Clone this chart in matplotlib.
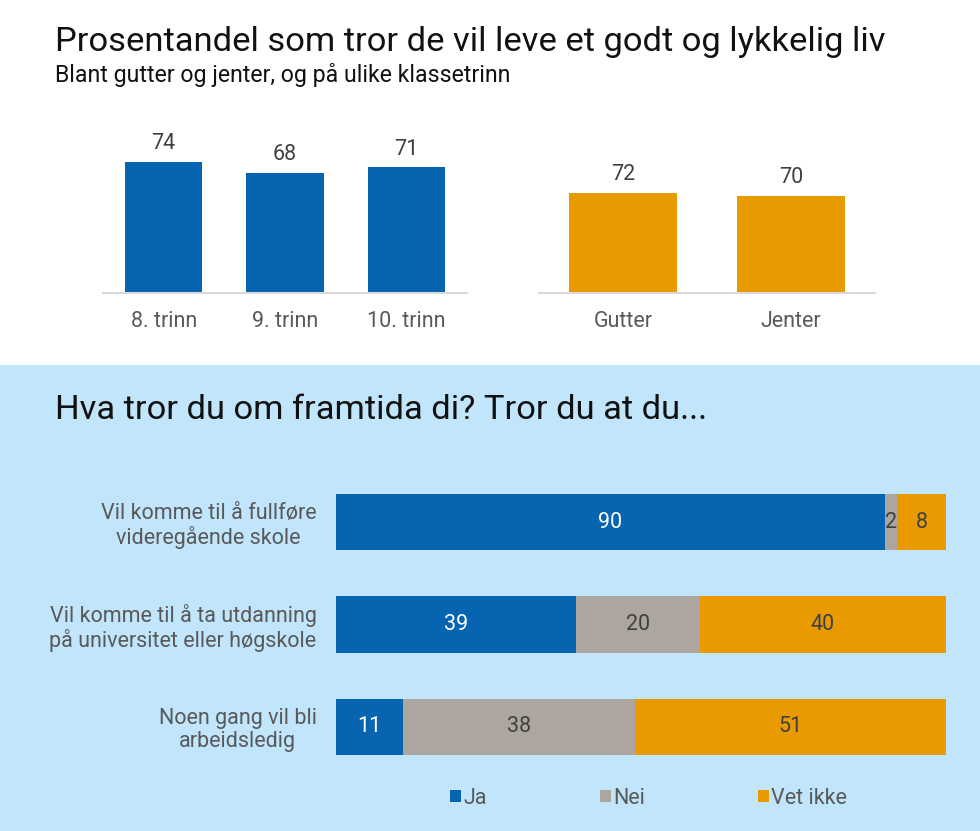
import numpy as np
import matplotlib.pyplot as plt
from matplotlib.patches import Rectangle

plt.rcParams['font.family'] = ['Roboto', 'DejaVu Sans']

# top: share who think they'll live a good and happy life
grade_labels = ["8. trinn", "9. trinn", "10. trinn"]
grade_values = [74, 68, 71]
gender_labels = ["Gutter", "Jenter"]
gender_values = [72, 70]

# bottom: thoughts about the future
questions = ["Vil komme til å fullføre\nvideregående skole",
             "Vil komme til å ta utdanning\npå universitet eller høgskole",
             "Noen gang vil bli\narbeidsledig"]
ja = [90, 39, 11]
nei = [2, 20, 38]
vet_ikke = [8, 40, 51]
series_names = ["Ja", "Nei", "Vet ikke"]

BLUE = "#0664b0"
ORANGE = "#e89a00"
GREY = "#aca69f"
BG = "#c1e5fb"
TXT = "#595959"
FS = 15.5

W, H = 980, 831
fig = plt.figure(figsize=(W / 100, H / 100), dpi=100)


def box(x0, y0, x1, y1):
    # pixel box (top-left origin) -> figure rect
    return [x0 / W, 1 - y1 / H, (x1 - x0) / W, (y1 - y0) / H]


fig.patches.append(Rectangle((0, 0), 1, 1 - 365 / H, transform=fig.transFigure,
                             facecolor=BG, edgecolor='none', zorder=-10))

fig.text(55 / W, 1 - 42 / H, "Prosentandel som tror de vil leve et godt og lykkelig liv",
         fontsize=24.8, color="#111111", va='center', ha='left')
fig.text(55 / W, 1 - 75 / H, "Blant gutter og jenter, og på ulike klassetrinn",
         fontsize=16.7, color="#111111", va='center', ha='left')


def column_chart(rect, labels, values, color, ymax):
    ax = fig.add_axes(rect)
    x = np.arange(len(values))
    bars = ax.bar(x, values, width=0.64, color=color)
    for b, v in zip(bars, values):
        ax.annotate(str(v), (b.get_x() + b.get_width() / 2, v), xytext=(0, 13),
                    textcoords='offset points', ha='center', va='center',
                    fontsize=FS, color="#404040")
    ax.set_xlim(-0.5, len(values) - 0.5)
    ax.set_ylim(0, ymax)
    ax.set_xticks(x)
    ax.set_xticklabels(labels, fontsize=FS, color=TXT)
    ax.tick_params(axis='x', length=0, pad=13)
    ax.set_yticks([])
    for s in ["top", "right", "left"]:
        ax.spines[s].set_visible(False)
    ax.spines["bottom"].set_color("#d9d9d9")
    ax.spines["bottom"].set_linewidth(1.5)
    ax.patch.set_alpha(0)
    return ax


column_chart(box(103, 116, 467, 293), grade_labels, grade_values, BLUE, 100)
column_chart(box(539, 154, 875, 293), gender_labels, gender_values, ORANGE, 100)

fig.text(55 / W, 1 - 410 / H, "Hva tror du om framtida di? Tror du at du...",
         fontsize=24.8, color="#111111", va='center', ha='left')

ax = fig.add_axes(box(336, 471, 946, 778))
ax.patch.set_alpha(0)
data = np.array([ja, nei, vet_ikke], dtype=float)
shares = data / data.sum(axis=0) * 100
y = np.arange(len(questions))
left = np.zeros(len(questions))
handles = []
for i, (name, color) in enumerate(zip(series_names, [BLUE, GREY, ORANGE])):
    bars = ax.barh(y, shares[i], left=left, height=0.55, color=color, label=name)
    handles.append(bars)
    for j, b in enumerate(bars):
        tc = "white" if color == BLUE else "#404040"
        ax.text(left[j] + shares[i][j] / 2, y[j], f"{int(data[i][j])}", ha='center', va='center',
                fontsize=FS, color=tc)
    left += shares[i]

ax.set_xlim(0, 100)
ax.set_ylim(2.5, -0.5)
ax.set_yticks(y)
ax.set_yticklabels(questions, fontsize=FS, color=TXT, ha='right', multialignment='center',
                   linespacing=1.12)
ax.tick_params(axis='y', length=0, pad=14)
ax.set_xticks([])
for s in ax.spines.values():
    s.set_visible(False)

fig.legend(handles=handles, labels=series_names, loc='center left',
           bbox_to_anchor=(450 / W, 1 - 798 / H), ncol=3, frameon=False,
           fontsize=FS, labelcolor=TXT, handlelength=0.52, handleheight=0.52,
           handletextpad=0.1, columnspacing=5.25, borderpad=0, borderaxespad=0)

fig.savefig("out.png", dpi=100)
